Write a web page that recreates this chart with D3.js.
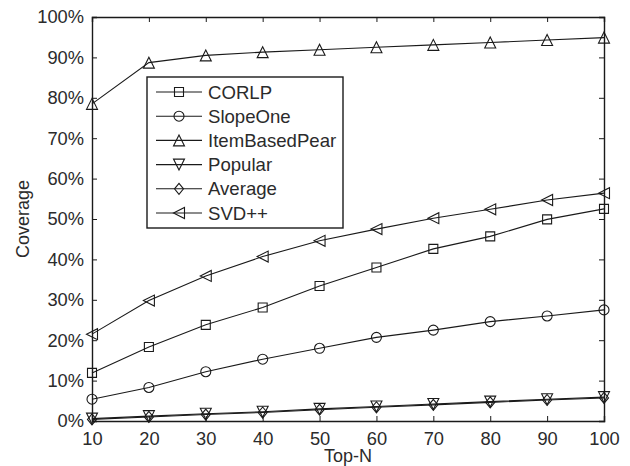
<!DOCTYPE html>
<html>
<head>
<meta charset="utf-8">
<script src="https://cdn.jsdelivr.net/npm/d3@7"></script>
<style>
  body { margin: 0; background: #fff; }
  svg { display: block; font-family: "Liberation Sans", Arial, sans-serif; }
</style>
</head>
<body>
<svg id="chart" width="630" height="466"></svg>
<script>
var topN = [10, 20, 30, 40, 50, 60, 70, 80, 90, 100];

var corlp = [11.9, 18.3, 23.8, 28.1, 33.4, 38.0, 42.6, 45.7, 49.9, 52.5];
var slopeOne = [5.4, 8.3, 12.2, 15.3, 18.0, 20.7, 22.5, 24.6, 26.0, 27.5];
var itemBasedPear = [78.5, 88.7, 90.5, 91.3, 91.9, 92.5, 93.1, 93.7, 94.3, 94.9];
var popular = [0.6, 1.2, 1.8, 2.3, 3.0, 3.6, 4.2, 4.8, 5.4, 5.9];
var average = [0.4, 1.0, 1.6, 2.1, 2.8, 3.4, 4.0, 4.6, 5.2, 5.7];
var svdpp = [21.5, 29.8, 35.9, 40.7, 44.6, 47.5, 50.2, 52.4, 54.7, 56.4];

var yTicks = [0, 10, 20, 30, 40, 50, 60, 70, 80, 90, 100];

var seriesNames = ["CORLP", "SlopeOne", "ItemBasedPear", "Popular", "Average", "SVD++"];
var seriesValues = [corlp, slopeOne, itemBasedPear, popular, average, svdpp];
var seriesMarkers = ["square", "circle", "triangleUp", "triangleDown", "diamond", "triangleLeft"];

var plotLeft = 92, plotRight = 604, plotTop = 17, plotBottom = 421;
var ink = "#1a1a1a";
var textInk = "#2b2b2b";

var svg = d3.select("#chart");

var x = d3.scaleLinear().domain([10, 100]).range([plotLeft, plotRight]);
var y = d3.scaleLinear().domain([0, 100]).range([plotBottom, plotTop]);

/**
 * Path for a MATLAB-like marker centred on 0,0
 */
var markerPath = function(kind) {
    var r = 5.5;
    if (kind == "square") {
        var s = 4.5;
        return "M" + -s + "," + -s + "H" + s + "V" + s + "H" + -s + "Z";
    } else if (kind == "circle") {
        var c = 5;
        return "M" + c + ",0A" + c + "," + c + " 0 1,1 " + -c + ",0A" + c + "," + c + " 0 1,1 " + c + ",0Z";
    } else if (kind == "triangleUp") {
        return "M0," + -r + "L" + r + "," + r + "L" + -r + "," + r + "Z";
    } else if (kind == "triangleDown") {
        return "M0," + r + "L" + r + "," + -r + "L" + -r + "," + -r + "Z";
    } else if (kind == "triangleLeft") {
        return "M" + -r + ",0L" + r + "," + -r + "L" + r + "," + r + "Z";
    } else {
        return "M0," + -r + "L4.5,0L0," + r + "L-4.5,0Z";
    }
};

// axes box, ticks point inward like matlab
var axisBottom = d3.axisBottom(x).tickValues(topN).tickSize(-5).tickPadding(11);
var axisLeft = d3.axisLeft(y).tickValues(yTicks).tickSize(-5).tickPadding(8)
    .tickFormat(function(d) { return d + "%"; });
var axisTop = d3.axisTop(x).tickValues(topN).tickSize(-5).tickFormat("");
var axisRight = d3.axisRight(y).tickValues(yTicks).tickSize(-5).tickFormat("");

var styleAxis = function(g) {
    g.select(".domain").attr("stroke", ink).attr("stroke-width", 1.4);
    g.selectAll(".tick line").attr("stroke", ink).attr("stroke-width", 1);
    g.selectAll(".tick text").attr("fill", textInk).attr("font-size", 18.3)
        .attr("font-family", "Liberation Sans, Arial, sans-serif");
};

svg.append("g").attr("transform", "translate(0," + plotBottom + ")").call(axisBottom).call(styleAxis);
svg.append("g").attr("transform", "translate(" + plotLeft + ",0)").call(axisLeft).call(styleAxis);
svg.append("g").attr("transform", "translate(0," + plotTop + ")").call(axisTop).call(styleAxis);
svg.append("g").attr("transform", "translate(" + plotRight + ",0)").call(axisRight).call(styleAxis);

// series
var line = d3.line()
    .x(function(d, i) { return x(topN[i]); })
    .y(function(d) { return y(d); });

for (var i = 0; i < seriesValues.length; i++) {
    svg.append("path")
        .attr("d", line(seriesValues[i]))
        .attr("fill", "none")
        .attr("stroke", ink)
        .attr("stroke-width", 1.1);
    svg.append("g").selectAll("path")
        .data(seriesValues[i])
        .join("path")
        .attr("transform", function(d, j) { return "translate(" + x(topN[j]) + "," + y(d) + ")"; })
        .attr("d", markerPath(seriesMarkers[i]))
        .attr("fill", "none")
        .attr("stroke", ink)
        .attr("stroke-width", 1.1);
}

// axis labels
svg.append("text")
    .attr("x", (plotLeft + plotRight) / 2)
    .attr("y", 462)
    .attr("text-anchor", "middle")
    .attr("font-size", 18)
    .attr("fill", textInk)
    .text("Top-N");

svg.append("text")
    .attr("transform", "translate(29," + (plotTop + plotBottom) / 2 + ") rotate(-90)")
    .attr("text-anchor", "middle")
    .attr("font-size", 18)
    .attr("fill", textInk)
    .text("Coverage");

// legend
var legend = svg.append("g");
legend.append("rect")
    .attr("x", 147).attr("y", 77)
    .attr("width", 196).attr("height", 151)
    .attr("fill", "#fff")
    .attr("stroke", ink)
    .attr("stroke-width", 1.4);

for (var k = 0; k < seriesNames.length; k++) {
    var ly = 92 + k * 24.2;
    legend.append("line")
        .attr("x1", 156).attr("x2", 202)
        .attr("y1", ly).attr("y2", ly)
        .attr("stroke", ink).attr("stroke-width", 1.1);
    legend.append("path")
        .attr("transform", "translate(179," + ly + ")")
        .attr("d", markerPath(seriesMarkers[k]))
        .attr("fill", "none")
        .attr("stroke", ink)
        .attr("stroke-width", 1.1);
    legend.append("text")
        .attr("x", 208).attr("y", ly)
        .attr("dy", "0.36em")
        .attr("font-size", 18.6)
        .attr("fill", textInk)
        .text(seriesNames[k]);
}
</script>
</body>
</html>
